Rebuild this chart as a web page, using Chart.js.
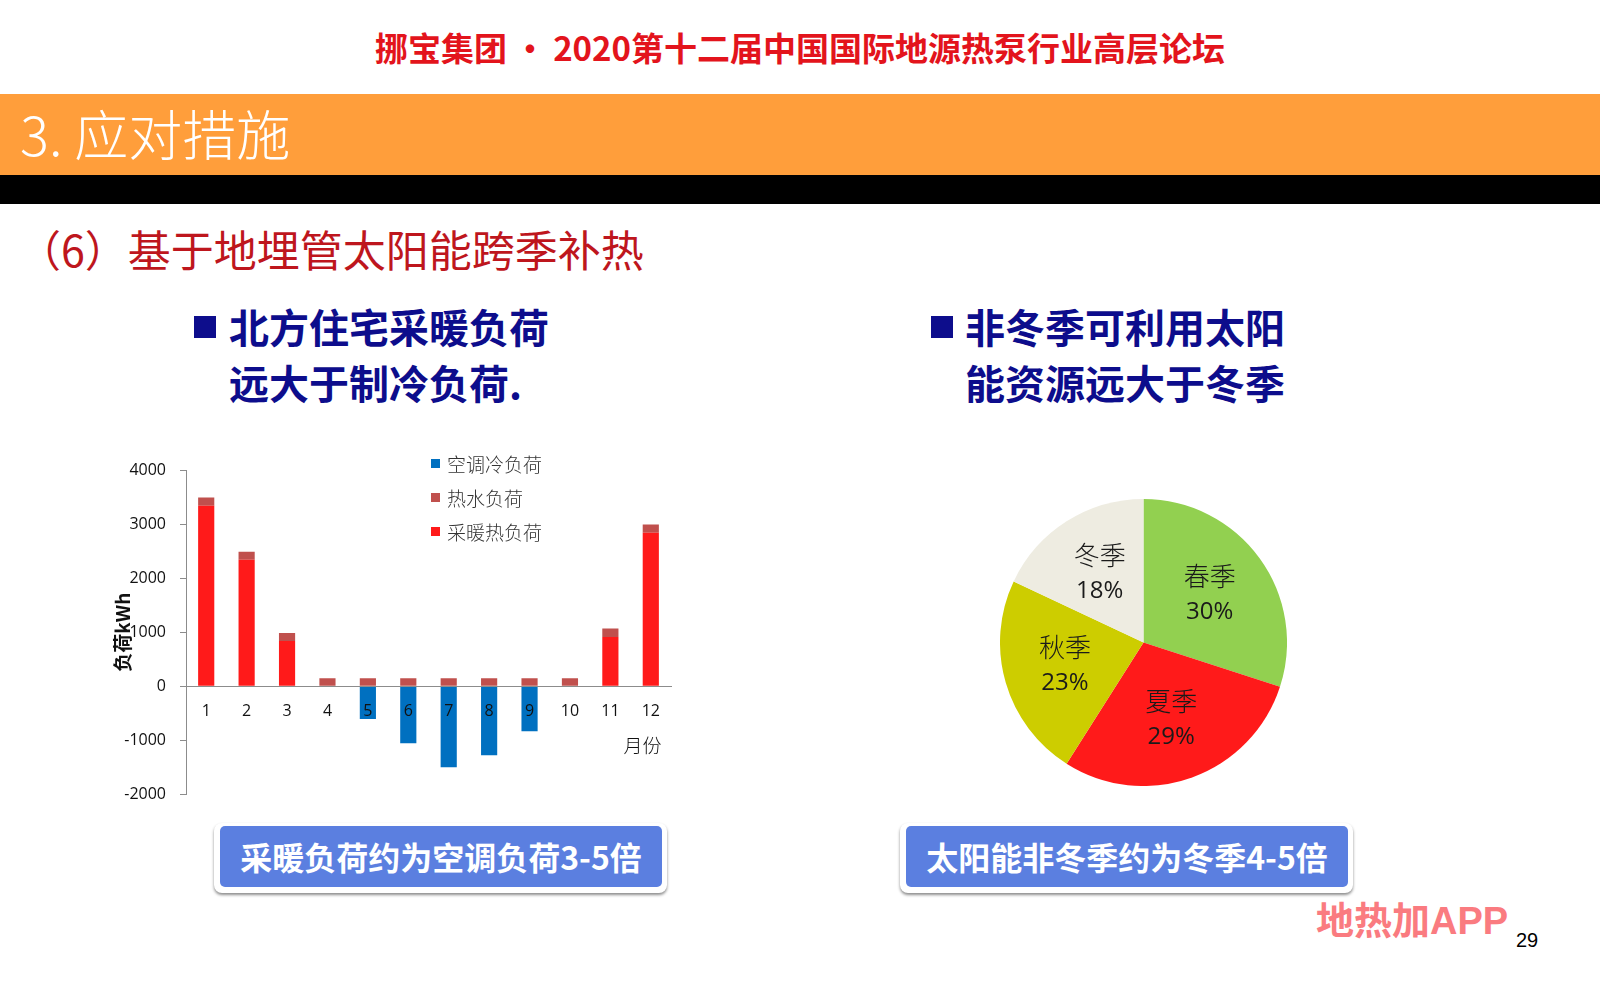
<!DOCTYPE html>
<html>
<head>
<meta charset="utf-8">
<script src="https://cdn.jsdelivr.net/npm/chart.js@4.4.1/dist/chart.umd.min.js"></script>
<style>
  html, body { margin:0; padding:0; background:#fff; }
  body { width:1600px; height:994px; position:relative; overflow:hidden; font-family:"Noto Sans CJK SC","Noto Sans",sans-serif; }
  .abs { position:absolute; white-space:nowrap; line-height:1; }
  #title { left:0; width:1600px; text-align:center; top:31px; font-size:33px; font-weight:700; color:#E3141C; }
  #band { left:0; top:94px; width:1600px; height:81px; background:#FF9E3B; }
  #black { left:0; top:175px; width:1600px; height:29px; background:#000; }
  #sec { left:20px; top:106px; font-size:54px; font-weight:300; color:#fff; }
  #sub { left:18px; top:227px; font-size:43px; color:#BE161D; }
  .head { font-size:40px; font-weight:700; color:#0D0D8C; }
  .bullet { position:absolute; width:22px; height:22px; background:#0D0D8C; }
  .btnOuter { position:absolute; top:823px; height:70px; background:#fff; border-radius:8px; box-shadow:0 2px 3px rgba(0,0,0,0.45); }
  .btn { position:absolute; top:826px; height:61px; width:442px; background:#5B7FE0; border-radius:5px; color:#fff; font-size:32px; font-weight:700; text-align:center; line-height:61px; }
  #brand { left:1316px; top:902px; font-size:38px; font-weight:700; color:#FA7B80; font-family:"Liberation Sans","Noto Sans CJK SC",sans-serif; }
  #page { left:1516px; top:930px; font-size:20px; color:#000; font-family:"Liberation Sans",sans-serif; }
  #barBox { position:absolute; left:60px; top:440px; width:630px; height:378px; }
  #pieBox { position:absolute; left:1000px; top:499px; width:287px; height:287px; }
  #legend { position:absolute; left:431px; top:452px; }
  .lg { position:absolute; left:0; height:24px; white-space:nowrap; font-size:19px; color:#333; line-height:24px; font-weight:300; }
  .lg i { position:absolute; left:0; top:7px; width:9px; height:9px; }
  .lg span { position:absolute; left:16px; top:0; }
</style>
</head>
<body>
<div id="title" class="abs">挪宝集团&thinsp;·&thinsp;2020第十二届中国国际地源热泵行业高层论坛</div>
<div id="band" class="abs"></div>
<div id="black" class="abs"></div>
<div id="sec" class="abs">3. 应对措施</div>
<div id="sub" class="abs">（6）基于地埋管太阳能跨季补热</div>

<div class="bullet" style="left:194px;top:316px"></div>
<div class="abs head" style="left:229px;top:306px">北方住宅采暖负荷</div>
<div class="abs head" style="left:229px;top:362px">远大于制冷负荷.</div>

<div class="bullet" style="left:931px;top:316px"></div>
<div class="abs head" style="left:965px;top:306px">非冬季可利用太阳</div>
<div class="abs head" style="left:965px;top:362px">能资源远大于冬季</div>

<div id="barBox"><canvas id="bar"></canvas></div>
<div id="legend"></div>
<div id="pieBox"><canvas id="pie"></canvas></div>

<div class="btnOuter" style="left:214px;width:453px"></div>
<div class="btn" style="left:220px">采暖负荷约为空调负荷3-5倍</div>
<div class="btnOuter" style="left:900px;width:453px"></div>
<div class="btn" style="left:906px">太阳能非冬季约为冬季4-5倍</div>

<div id="brand" class="abs">地热加APP</div>
<div id="page" class="abs">29</div>

<script>
// ---- bar chart data ----
const months = ['1','2','3','4','5','6','7','8','9','10','11','12'];
const heatingLoad  = [3340, 2340, 835, 0, 0, 0, 0, 0, 0, 0, 910, 2840];
const hotWaterLoad = [150, 150, 150, 150, 150, 150, 150, 150, 150, 150, 160, 150];
const coolingLoad  = [0, 0, 0, 0, -607, -1053, -1498, -1276, -830, 0, 0, 0];
const yTicks = [-2000, -1000, 0, 1000, 2000, 3000, 4000];

// ---- pie chart data ----
const seasons = ['春季', '夏季', '秋季', '冬季'];
const solarShare = [30, 29, 23, 18];

const barDatasets = [
  { label: '采暖热负荷', data: heatingLoad, backgroundColor: '#FF1A1A' },
  { label: '热水负荷', data: hotWaterLoad, backgroundColor: '#C0504D' },
  { label: '空调冷负荷', data: coolingLoad, backgroundColor: '#0070C0' }
];

// HTML legend (top-to-bottom order like reference)
const lgEl = document.getElementById('legend');
barDatasets.slice().reverse().forEach((d, i) => {
  const row = document.createElement('div');
  row.className = 'lg';
  row.style.top = (i * 34) + 'px';
  row.innerHTML = '<i style="background:' + d.backgroundColor + '"></i><span>' + d.label + '</span>';
  lgEl.appendChild(row);
});

const tickFont = { family: '"Open Sans","Liberation Sans",sans-serif', size: 16 };

new Chart(document.getElementById('bar'), {
  type: 'bar',
  data: { labels: months, datasets: barDatasets },
  options: {
    responsive: true,
    maintainAspectRatio: false,
    animation: false,
    devicePixelRatio: 1,
    layout: { padding: { left: 47, top: 30, right: 19, bottom: 9 } },
    datasets: { bar: { barPercentage: 0.4, categoryPercentage: 1.0 } },
    plugins: { legend: { display: false }, tooltip: { enabled: false } },
    scales: {
      x: {
        stacked: true,
        position: { y: 0 },
        grid: { display: false, drawTicks: false },
        border: { display: true, color: '#8C8C8C', width: 1, z: 1 },
        ticks: { color: '#111', font: tickFont, padding: 16, maxRotation: 0, z: 1 },
        title: { display: true, text: '月份\u2002', align: 'end', color: '#111',
                 font: { family: '"Noto Sans CJK SC",sans-serif', size: 19, weight: 300 },
                 padding: { top: -3, bottom: 0 } }
      },
      y: {
        stacked: true,
        min: -2000, max: 4000,
        afterBuildTicks: (s) => { s.ticks = yTicks.map(v => ({ value: v })); },
        afterFit: (s) => { s.width = 79; },
        grid: { display: true, drawOnChartArea: false, drawTicks: true, tickLength: 6, color: '#8C8C8C' },
        border: { display: true, color: '#8C8C8C', width: 1 },
        ticks: { color: '#111', font: tickFont, padding: 14, callback: (v) => String(v) },
        title: { display: true, text: '负荷kWh', color: '#111',
                 font: { family: '"Noto Sans CJK SC",sans-serif', size: 19, weight: 700 },
                 padding: { top: 4, bottom: 0 } }
      }
    }
  }
});

const pieLabelPlugin = {
  id: 'pieLabels',
  afterDatasetsDraw(chart) {
    const ctx = chart.ctx;
    const meta = chart.getDatasetMeta(0);
    const data = chart.data.datasets[0].data;
    ctx.save();
    ctx.textAlign = 'center';
    ctx.textBaseline = 'middle';
    ctx.fillStyle = '#1a1a1a';
    meta.data.forEach((arc, i) => {
      const p = arc.getProps(['x', 'y', 'startAngle', 'endAngle', 'outerRadius'], true);
      const mid = (p.startAngle + p.endAngle) / 2;
      const r = p.outerRadius * 0.57;
      const cx = p.x + Math.cos(mid) * r;
      const cy = p.y + Math.sin(mid) * r;
      ctx.font = '300 26px "Noto Sans CJK SC", sans-serif';
      ctx.fillText(chart.data.labels[i], cx, cy - 18);
      ctx.font = '24px "Open Sans", sans-serif';
      ctx.fillText(data[i] + '%', cx, cy + 18);
    });
    ctx.restore();
  }
};

new Chart(document.getElementById('pie'), {
  type: 'pie',
  data: {
    labels: seasons,
    datasets: [{ data: solarShare, backgroundColor: ['#92D050', '#FF1A1A', '#CDCD00', '#EEECE1'], borderWidth: 0 }]
  },
  options: {
    responsive: true,
    maintainAspectRatio: false,
    animation: false,
    devicePixelRatio: 1,
    layout: { padding: 0 },
    plugins: { legend: { display: false }, tooltip: { enabled: false } }
  },
  plugins: [pieLabelPlugin]
});
</script>
</body>
</html>
